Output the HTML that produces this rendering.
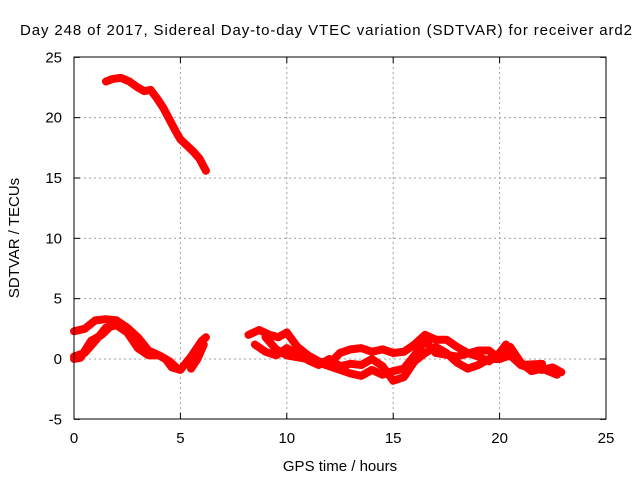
<!DOCTYPE html>
<html><head><meta charset="utf-8"><style>
body{margin:0;background:#fff}
svg{display:block;font-family:"Liberation Sans",sans-serif}
</style></head><body>
<svg id="chart" width="640" height="480">
<text x="20" y="35" font-size="15" textLength="612" lengthAdjust="spacing">Day 248 of 2017, Sidereal Day-to-day VTEC variation (SDTVAR) for receiver ard2</text>
<text x="340" y="471" text-anchor="middle" font-size="15">GPS time / hours</text>
<text transform="translate(19,238) rotate(-90)" text-anchor="middle" font-size="15">SDTVAR / TECUs</text>
<g id="grid"></g><g id="series"></g>
<rect x="74" y="57" width="532" height="362" fill="none" stroke="#000" stroke-width="1"/>
</svg>
<script>
const xTicks=[0,5,10,15,20,25];
const yTicks=[-5,0,5,10,15,20,25];
const topH=[1.5,1.8,2.2,2.6,3,3.3,3.6,3.9,4.2,4.5,4.8,5,5.3,5.6,5.9,6.2];
const topV=[23.0,23.2,23.3,23.0,22.5,22.2,22.3,21.6,20.8,19.8,18.8,18.2,17.7,17.2,16.6,15.6];
const bH=[0,0.5,1,1.5,2,2.5,3,3.5,4,4.3,4.6,5,5.5,6,6.2];
const bV=[2.3,2.5,3.2,3.3,3.2,2.6,1.8,0.7,0.3,0,-0.7,-0.9,0.2,1.5,1.8];
const cH=[0,0.5,1,1.5,2,2.5,3,3.5,4,4.5,4.8];
const cV=[0.2,0.5,1.5,2.6,2.8,2.2,0.9,0.3,0.3,-0.2,-0.7];
const dH=[5.5,5.8,6.1];
const dV=[-0.8,0,1.2];
const eH=[0,0.3,0.8,1.3,2];
const eV=[0,0.1,1.5,2.0,3.2];
const fH=[8.2,8.7,9.2,9.6,10,10.5,11,11.5,12,12.5,13,13.5,14,14.5,15,15.5,16,16.5,17,17.5,18,18.5,19,19.5,20,20.3,20.6,21,21.5,22,22.5,22.9];
const fV=[2,2.4,2.0,1.8,2.2,1,0.3,-0.2,-0.4,0.5,0.8,0.9,0.6,0.8,0.5,0.6,1.2,2.0,1.6,1.6,1.0,0.5,0.2,-0.2,0.5,1.2,0.5,-0.5,-0.8,-0.9,-0.7,-1.1];
const gH=[8.5,9,9.5,10,10.5,11,11.5,12,12.5,13,13.5,14,14.5,15,15.5,16,16.5,17,17.5,18,18.5,19,19.5,20,20.5,21,21.5,22,22.7];
const gV=[1.2,0.6,0.3,0.9,0.4,-0.1,-0.5,0,-0.6,-0.4,-0.5,0,-0.6,-1.8,-1.5,-0.2,0.5,1,0.5,-0.3,-0.8,-0.5,0,0,1.0,-0.3,-1,-0.8,-1.3];
const hH=[9,9.5,10,11,12,13,13.5,14,14.5,15,15.5,16,16.5,17,18,19,19.5,20,20.5,21,22];
const hV=[1.8,0.8,0.3,0,-0.6,-1.2,-1.4,-0.9,-1.3,-1,-0.8,0.3,1.5,0.5,0.2,0.7,0.7,0,0.3,-0.5,-0.4];
const X=h=>74+h*532/25, Y=v=>359-v*362/30;
const NS="http://www.w3.org/2000/svg";
const g=document.getElementById('grid'), s=document.getElementById('series');
function mk(tag,attrs,parent){const e=document.createElementNS(NS,tag);for(const k in attrs)e.setAttribute(k,attrs[k]);parent.appendChild(e);return e;}
xTicks.forEach(t=>{const x=X(t);
 if(t>0&&t<25){const l=mk('line',{x1:x,x2:x,y1:57,y2:419,stroke:'#a0a0a0','stroke-dasharray':'2,3'},g);
 
 }
 mk('line',{x1:x,x2:x,y1:419,y2:413,stroke:'#000'},g);mk('line',{x1:x,x2:x,y1:57,y2:63,stroke:'#000'},g);
 const tx=mk('text',{x:x,y:443,'text-anchor':'middle','font-size':15},g);tx.textContent=t;
 
 });
yTicks.forEach(t=>{const y=Y(t);
 if(t>-5&&t<25){const l=mk('line',{x1:74,x2:606,y1:y,y2:y,stroke:'#a0a0a0','stroke-dasharray':'2,3'},g);
 
 }
 mk('line',{x1:74,x2:80,y1:y,y2:y,stroke:'#000'},g);mk('line',{x1:606,x2:600,y1:y,y2:y,stroke:'#000'},g);
 const tx=mk('text',{x:62,y:y+5,'text-anchor':'end','font-size':15},g);tx.textContent=t;
 
 });
[[topH,topV],[bH,bV],[cH,cV],[dH,dV],[eH,eV],[fH,fV],[gH,gV],[hH,hV]].forEach(([hs,vs])=>{
 const p=mk('polyline',{points:hs.map((h,i)=>X(h)+','+Y(vs[i])).join(' '),fill:'none',stroke:'#ff0000','stroke-width':8,'stroke-linejoin':'round','stroke-linecap':'round'},s);
 
 });
</script>
</body></html>
